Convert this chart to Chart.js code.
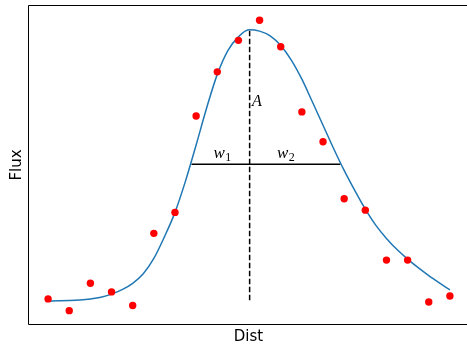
<!DOCTYPE html>
<html>
<head>
<meta charset="utf-8">
<script src="https://cdn.jsdelivr.net/npm/chart.js@4"></script>
<style>
  html, body { margin: 0; padding: 0; background: #fff; overflow: hidden; }
  #wrap { width: 470px; height: 345px; }
</style>
</head>
<body>
<div id="wrap"><canvas id="chart"></canvas></div>
<script>
// measured points
const pointIdx = [0, 1, 2, 3, 4, 5, 6, 7, 8, 9, 10, 11, 12, 13, 14, 15, 16, 17, 18, 19];
const fluxObs = [7.9, 4.2, 12.8, 10.1, 5.8, 28.5, 35.1, 65.4, 79.3, 89.2, 95.5, 87.2, 66.7, 57.3, 39.4, 35.8, 20.1, 20.1, 6.9, 8.8];

// fitted curve
const fitIdx = [0, 0.5, 1, 1.5, 2, 2.5, 3, 3.5, 4, 4.5, 5, 5.5, 6, 6.5, 7, 7.5, 8, 8.5, 9, 9.5,
                10, 10.5, 11, 11.5, 12, 12.5, 13, 13.5, 14, 14.5, 15, 15.5, 16, 16.5, 17, 17.5, 18, 18.5, 19];
const fitFlux = [7.23, 7.30, 7.39, 7.55, 7.86, 8.4, 9.4, 10.8, 12.8, 15.8, 20.6, 27.4, 35.1, 45.0, 56.3, 68.0, 78.5, 86.0, 90.3, 92.5,
                 92.1, 90.6, 87.6, 83.0, 77.0, 69.8, 62.5, 55.2, 48.3, 42.0, 36.1, 31.0, 26.9, 23.4, 20.4, 17.7, 15.2, 12.9, 10.7];

// peak marker and half-height widths
const peakIdx = 9.53;
const peakFlux = 92.2;
const baseFlux = 7.5;
const halfFlux = 50.2;
const halfLeft = 6.78;
const halfRight = 13.82;

const toPts = (xs, ys) => xs.map((x, i) => ({ x: x, y: ys[i] }));

const framePlugin = {
  id: 'frame',
  afterDatasetsDraw(chart) {
    const { ctx, chartArea: a, scales } = chart;
    const sx = scales.x, sy = scales.y;
    ctx.save();
    // spines
    ctx.strokeStyle = '#000';
    ctx.lineWidth = 1;
    ctx.beginPath();
    ctx.moveTo(a.left + 0.5, a.top - 0.5);
    ctx.lineTo(a.left + 0.5, a.bottom + 0.5);
    ctx.lineTo(a.right - 0.5, a.bottom + 0.5);
    ctx.lineTo(a.right - 0.5, a.top - 0.5);
    ctx.closePath();
    ctx.stroke();

    // math labels
    ctx.fillStyle = '#000';
    ctx.textBaseline = 'alphabetic';
    ctx.textAlign = 'left';
    ctx.font = 'italic 16px "Liberation Serif"';
    ctx.fillText('A', sx.getPixelForValue(9.64), sy.getPixelForValue(68.4));

    const wLabel = (x, sub) => {
      const px = sx.getPixelForValue(x), py = sy.getPixelForValue(52.1);
      ctx.font = 'italic 17px "Liberation Serif"';
      ctx.fillText('w', px, py);
      const w = ctx.measureText('w').width;
      ctx.font = '12px "Liberation Serif"';
      ctx.fillText(sub, px + w + 0.5, py + 2.5);
    };
    wLabel(7.82, '1');
    wLabel(10.82, '2');

    // axis titles
    ctx.font = '15px "DejaVu Sans"';
    ctx.textAlign = 'center';
    ctx.fillText('Dist', 248.5, 341);
    ctx.translate(21, 165);
    ctx.rotate(-Math.PI / 2);
    ctx.fillText('Flux', 0, 0);
    ctx.restore();
  }
};

new Chart(document.getElementById('chart').getContext('2d'), {
  type: 'scatter',
  data: {
    datasets: [
      {
        data: toPts(pointIdx, fluxObs),
        backgroundColor: '#ff0000',
        borderColor: '#ff0000',
        borderWidth: 0,
        pointRadius: 3.7,
        order: 0
      },
      {
        data: toPts(fitIdx, fitFlux),
        showLine: true,
        borderColor: '#1f77b4',
        borderWidth: 1.5,
        pointRadius: 0,
        cubicInterpolationMode: 'monotone',
        order: 1
      },
      {
        data: toPts([peakIdx, peakIdx], [baseFlux, peakFlux]),
        showLine: true,
        borderColor: '#000',
        borderWidth: 1.5,
        borderDash: [5.5, 2.5],
        pointRadius: 0,
        order: 2
      },
      {
        data: toPts([halfLeft, halfRight], [halfFlux, halfFlux]),
        showLine: true,
        borderColor: '#000',
        borderWidth: 1.5,
        pointRadius: 0,
        order: 3
      }
    ]
  },
  options: {
    responsive: true,
    maintainAspectRatio: false,
    devicePixelRatio: 1,
    animation: false,
    layout: { autoPadding: false, padding: { left: 28, top: 6, right: 0, bottom: 21 } },
    plugins: { legend: { display: false }, tooltip: { enabled: false } },
    scales: {
      x: { type: 'linear', min: -0.95, max: 19.95, display: false },
      y: { type: 'linear', min: 0, max: 100, display: false }
    }
  },
  plugins: [framePlugin]
});
</script>
</body>
</html>
